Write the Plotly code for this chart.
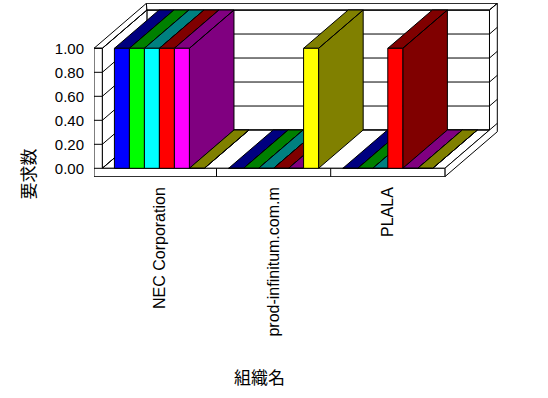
import plotly.graph_objects as go

# ---------------- data ----------------
categories = ["NEC Corporation", "prod-infinitum.com.m", "PLALA"]
series_names = ["系列1", "系列2", "系列3", "系列4", "系列5", "系列6"]
series_1 = [1, 0, 0]
series_2 = [1, 0, 0]
series_3 = [1, 0, 0]
series_4 = [1, 0, 1]
series_5 = [1, 0, 0]
series_6 = [0, 1, 0]
y_ticks = [0.0, 0.2, 0.4, 0.6, 0.8, 1.0]
x_title = "組織名"
y_title = "要求数"

series_values = [series_1, series_2, series_3, series_4, series_5, series_6]

# ---------------- style ----------------
front_colors = ["#0000FF", "#00FF00", "#00FFFF", "#FF0000", "#FF00FF", "#FFFF00"]
dark_colors = ["#000080", "#008000", "#008080", "#800000", "#800080", "#808000"]
LATIN = "Liberation Sans, Arial, sans-serif"
CJK = "Noto Sans CJK JP, sans-serif"

# 3D oblique geometry (in axis units)
BAR_W = 0.1313          # bar width in category units
DX, DY = 0.3905, 0.319  # depth offset
B = 1.175               # outer back-wall depth factor
T = 0.07                # floor slab thickness (value units)
WALL = 0.0727           # left wall thickness (category units)
n_cat = len(categories)
n_ser = len(series_values)
group_off = (1 - BAR_W * n_ser) / 2
XL = -0.5
XR = n_cat - 0.5
XO = XL - WALL
YMAX = max(y_ticks)

fig = go.Figure()


def add_poly(polys, fill, line_color="black"):
    xs, ys = [], []
    for pts in polys:
        xs += [p[0] for p in pts] + [pts[0][0], None]
        ys += [p[1] for p in pts] + [pts[0][1], None]
    fig.add_trace(go.Scatter(
        x=xs, y=ys, mode="lines", fill="toself", fillcolor=fill,
        line=dict(color=line_color, width=1), hoverinfo="skip", showlegend=False))


def add_lines(segs):
    xs, ys = [], []
    for pts in segs:
        xs += [p[0] for p in pts] + [None]
        ys += [p[1] for p in pts] + [None]
    fig.add_trace(go.Scatter(
        x=xs, y=ys, mode="lines", line=dict(color="black", width=1),
        hoverinfo="skip", showlegend=False))


# back wall inner face
add_poly([[(XL + DX, DY), (XR + DX, DY), (XR + DX, YMAX + DY), (XL + DX, YMAX + DY)]], "white")
# left wall inner face
add_poly([[(XL, 0), (XL, YMAX), (XL + DX, YMAX + DY), (XL + DX, DY)]], "white")
# floor top
add_poly([[(XL, 0), (XR, 0), (XR + DX, DY), (XL + DX, DY)]], "white")
# left wall top
add_poly([[(XO, YMAX), (XL, YMAX), (XL + DX, YMAX + DY), (XO + B * DX, YMAX + B * DY)]], "white")
# back wall top
add_poly([[(XL + DX, YMAX + DY), (XR + DX, YMAX + DY), (XR + B * DX, YMAX + B * DY),
           (XO + B * DX, YMAX + B * DY)]], "white")
# right side (floor slab + back wall)
add_poly([[(XR, 0), (XR, -T), (XR + B * DX, -T + B * DY), (XR + B * DX, YMAX + B * DY),
           (XR + DX, YMAX + DY), (XR + DX, DY)]], "white")
# front faces of left wall and floor slab
add_poly([[(XO, -T), (XR, -T), (XR, 0), (XL, 0), (XL, YMAX), (XO, YMAX)]], "white")

# gridlines
grid = []
for v in y_ticks:
    grid.append([(XO, v), (XL, v), (XL + DX, v + DY), (XR + DX, v + DY), (XR + B * DX, v + B * DY)])
for c in range(1, n_cat):
    grid.append([(c - 0.5, -T), (c - 0.5, 0)])
add_lines(grid)

# bars
for c in range(n_cat):
    for s in range(n_ser):
        v = series_values[s][c]
        x0 = c - 0.5 + group_off + s * BAR_W
        x1 = x0 + BAR_W
        top = [(x0, v), (x1, v), (x1 + DX, v + DY), (x0 + DX, v + DY)]
        side = [(x1, 0), (x1, v), (x1 + DX, v + DY), (x1 + DX, DY)]
        add_poly([side, top], dark_colors[s])
        add_poly([[(x0, 0), (x1, 0), (x1, v), (x0, v)]], front_colors[s])

fig.update_layout(
    width=548, height=398,
    margin=dict(l=94, r=50, t=3, b=221, autoexpand=False),
    paper_bgcolor="white", plot_bgcolor="white",
    showlegend=False,
    xaxis=dict(
        range=[XO, 2.965], tickvals=list(range(n_cat)), ticktext=categories,
        tickangle=-90, showgrid=False, zeroline=False, showline=False, ticks="",
        tickfont=dict(family=LATIN, size=16, color="black"), ticklabelstandoff=6,
        automargin=False, fixedrange=True),
    yaxis=dict(
        range=[-0.0725, 1.3775], tickvals=y_ticks, ticktext=["%.2f" % t for t in y_ticks],
        showgrid=False, zeroline=False, showline=False, ticks="",
        tickfont=dict(family=LATIN, size=15, color="black"), ticklabelstandoff=9,
        automargin=False, fixedrange=True),
    annotations=[
        dict(text=x_title, xref="paper", yref="paper", x=0.4097, y=-1.1466,
             xanchor="center", yanchor="middle", showarrow=False,
             font=dict(family=CJK, size=17, color="black")),
        dict(text=y_title, xref="paper", yref="paper", x=-0.1646, y=0.0172,
             xanchor="center", yanchor="middle", showarrow=False, textangle=-90,
             font=dict(family=CJK, size=17, color="black")),
    ],
)

fig.write_html("out.html", config={"displayModeBar": False},
               post_script="document.body.style.margin='0px';")
